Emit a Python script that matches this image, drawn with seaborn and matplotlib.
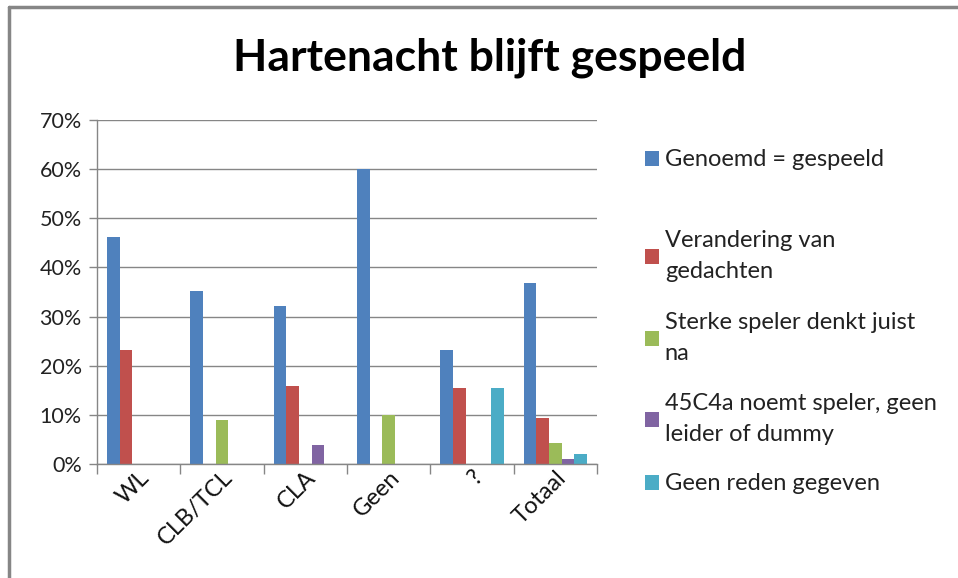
import matplotlib
matplotlib.use("Agg")
import matplotlib.pyplot as plt
import seaborn as sns
import pandas as pd
from matplotlib.lines import Line2D
from matplotlib.ticker import PercentFormatter

categories = ["WL", "CLB/TCL", "CLA", "Geen", "?", "Totaal"]
series_names = [
    "Genoemd = gespeeld",
    "Verandering van\ngedachten",
    "Sterke speler denkt juist\nna",
    "45C4a noemt speler, geen\nleider of dummy",
    "Geen reden gegeven",
]
genoemd = [46.2, 35.2, 32.1, 60.0, 23.1, 36.8]
verandering = [23.1, 0.0, 15.9, 0.0, 15.4, 9.4]
sterke = [0.0, 8.9, 0.0, 10.0, 0.0, 4.3]
noemt = [0.0, 0.0, 3.9, 0.0, 0.0, 1.1]
geen_reden = [0.0, 0.0, 0.0, 0.0, 15.4, 2.0]
colors = ["#4F81BD", "#C0504D", "#9BBB59", "#8064A2", "#4BACC6"]

sns.set_theme(style="white")
plt.rcParams["font.family"] = ["Lato", "DejaVu Sans"]
plt.rcParams["figure.edgecolor"] = "white"
plt.rcParams["figure.frameon"] = True

rows = []
for name, vals in zip(series_names, [genoemd, verandering, sterke, noemt, geen_reden]):
    for c, v in zip(categories, vals):
        rows.append({"cat": c, "series": name, "val": v})
df = pd.DataFrame(rows)

fig = plt.figure(figsize=(9.58, 5.78), dpi=100)
fig.patch.set_facecolor("white")
fig.patch.set_edgecolor("white")
fig.patch.set_linewidth(0)
ax = fig.add_axes([97 / 958, 1 - 464 / 578, 500 / 958, 344 / 578])

sns.barplot(data=df, x="cat", y="val", hue="series", hue_order=series_names,
            order=categories, palette=colors, width=0.76, saturation=1,
            linewidth=0, ax=ax)

ax.set_ylim(0, 70)
ax.set_xlim(-0.5, 5.5)
ax.set_yticks(range(0, 71, 10))
ax.yaxis.set_major_formatter(PercentFormatter(decimals=0))
ax.grid(axis="y", color="#868686", linewidth=1)
ax.set_axisbelow(True)
for s in ["top", "right"]:
    ax.spines[s].set_visible(False)
for s in ["left", "bottom"]:
    ax.spines[s].set_color("#868686")
    ax.spines[s].set_linewidth(1)
ax.set_xlabel("")
ax.set_ylabel("")
ax.tick_params(axis="y", which="major", left=True, length=6, width=1,
               color="#868686", labelsize=15.5, pad=5, labelcolor="#222222")
ax.set_xticks([i - 0.5 for i in range(7)], minor=True)
ax.tick_params(axis="x", which="minor", bottom=True, length=7, width=1,
               color="#868686")
ax.tick_params(axis="x", which="major", bottom=False, length=0, labelsize=17,
               pad=2, labelcolor="#111111")
for lab in ax.get_xticklabels():
    lab.set_rotation(45)
    lab.set_ha("right")
    lab.set_rotation_mode("anchor")

handles, labels = ax.get_legend_handles_labels()
if ax.get_legend() is not None:
    ax.get_legend().remove()
legend_y = [160, 256, 338, 419, 484]
for h, l, yc in zip(handles, labels, legend_y):
    leg = fig.legend([h], [l], loc="center left",
                     bbox_to_anchor=(633 / 958, 1 - yc / 578),
                     frameon=False, fontsize=17, handlelength=0.6,
                     handleheight=0.6, handletextpad=0.25, borderpad=0,
                     labelcolor="#222222")
    for t in leg.get_texts():
        t.set_linespacing(1.55)

fig.text(490 / 958, 1 - 58 / 578, "Hartenacht blijft gespeeld", ha="center",
         va="center", fontsize=32, fontweight="bold", color="black")

fig.add_artist(Line2D([9 / 958, 9 / 958], [0, 1 - 7 / 578],
                      transform=fig.transFigure, color="#868686", linewidth=2.5))
fig.add_artist(Line2D([9 / 958, 1.01], [1 - 7 / 578, 1 - 7 / 578],
                      transform=fig.transFigure, color="#868686", linewidth=2.5))

fig.savefig("out.png", dpi=100, facecolor="white", edgecolor="white")
